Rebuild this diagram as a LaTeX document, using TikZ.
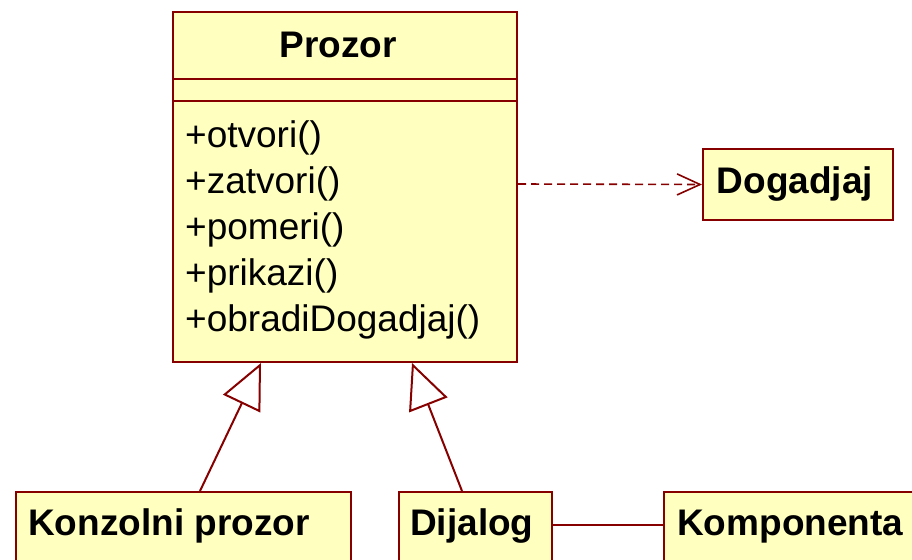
\documentclass[tikz,border=0pt]{standalone}
\usepackage{fontspec}
\setmainfont{Liberation Sans}
\usetikzlibrary{arrows.meta}
\definecolor{umlborder}{RGB}{135,0,0}
\definecolor{umlfill}{RGB}{255,255,192}
\tikzset{
  classbox/.style={draw=umlborder, fill=umlfill, line width=2pt, inner sep=0pt, anchor=north west},
  nametext/.style={font=\fontsize{37}{44}\selectfont\bfseries, inner sep=0pt},
  optext/.style={font=\fontsize{37}{44}\selectfont, inner sep=0pt, anchor=base west},
  conn/.style={draw=umlborder, line width=2pt},
  gen/.style={conn, -{Triangle[open, length=45pt, width=41pt]}},
  dep/.style={conn, line width=1.6pt, dash pattern=on 8pt off 5pt, -{Straight Barb[length=23pt, width=21pt]}},
}
\begin{document}
\begin{tikzpicture}[x=1pt, y=-1pt]
\useasboundingbox (0,0) rectangle (912,559);
% Prozor
\node[classbox, minimum width=344pt, minimum height=350pt] (prozor) at (172,11) {};
\draw[conn] ([yshift=-68.5pt]prozor.north west) -- ([yshift=-68.5pt]prozor.north east);
\draw[conn] ([yshift=-90pt]prozor.north west) -- ([yshift=-90pt]prozor.north east);
\node[nametext] (pname) at (338,45) {Prozor};
\node[optext] (m1) at (185,147) {+otvori()};
\node[optext] (m2) at (185,193) {+zatvori()};
\node[optext] (m3) at (185,239) {+pomeri()};
\node[optext] (m4) at (185,285) {+prikazi()};
\node[optext] (m5) at (185,331) {+obradiDogadjaj()};
% Dogadjaj
\node[classbox, minimum width=190pt, minimum height=71pt] (dog) at (702,148) {};
\node[nametext] (dogname) at (795,184) {Dogadjaj};
% bottom boxes
\node[classbox, minimum width=335pt, minimum height=100pt] (konz) at (15,491) {};
\node[nametext, anchor=base west] (konzname) at (28,535) {Konzolni prozor};
\node[classbox, minimum width=153pt, minimum height=100pt] (dij) at (398,491) {};
\node[nametext, anchor=base west] (dijname) at (410,535) {Dijalog};
\node[classbox, minimum width=280pt, minimum height=100pt] (komp) at (663,491) {};
\node[nametext, anchor=base west] (kompname) at (677,535) {Komponenta};
% connectors
\draw[gen] ([xshift=185pt]konz.north west) -- ([xshift=89pt]prozor.south west);
\draw[gen] ([xshift=64pt]dij.north west) -- ([xshift=240pt]prozor.south west);
\draw[conn] ([yshift=-34pt]dij.north east) -- ([yshift=-34pt]komp.north west);
\draw[dep] ([yshift=-173pt]prozor.north east) -- (dog.west);
\end{tikzpicture}
\end{document}
